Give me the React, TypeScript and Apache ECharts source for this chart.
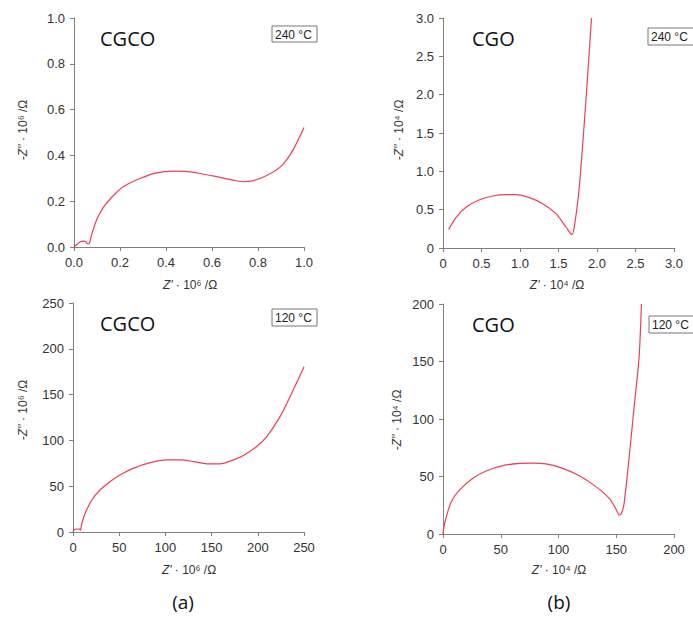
import React, { useEffect, useRef } from "react";
import * as echarts from "echarts";

// Panel (a) top: CGCO 240 °C  (Z' and -Z'' in 10^6 Ω)
const cgco240X = [0, 0.011, 0.026, 0.04, 0.052, 0.059, 0.067, 0.077, 0.098, 0.127, 0.163, 0.214, 0.287, 0.359, 0.432, 0.483, 0.548, 0.62, 0.693, 0.736, 0.78, 0.838, 0.9, 0.95, 1.0];
const cgco240Y = [0, 0.01, 0.022, 0.026, 0.023, 0.013, 0.016, 0.055, 0.118, 0.172, 0.216, 0.263, 0.299, 0.324, 0.331, 0.33, 0.321, 0.307, 0.292, 0.285, 0.29, 0.312, 0.352, 0.42, 0.522];

// Panel (b) top: CGO 240 °C  (10^4 Ω)
const cgo240X = [0.073, 0.173, 0.302, 0.475, 0.647, 0.82, 0.95, 1.122, 1.295, 1.467, 1.597, 1.675, 1.705, 1.77, 1.856, 1.929];
const cgo240Y = [0.243, 0.404, 0.535, 0.63, 0.678, 0.696, 0.696, 0.657, 0.578, 0.448, 0.274, 0.174, 0.274, 0.796, 1.926, 3.0];

// Panel (a) bottom: CGCO 120 °C  (10^6 Ω)
const cgco120X = [0, 1.4, 4.3, 7.2, 7.9, 9.7, 13.3, 20.5, 29.5, 40.3, 51.2, 65.6, 83.6, 101.6, 116, 130.4, 144.8, 159.1, 173.6, 184.4, 198.8, 209.7, 224.1, 234.9, 250];
const cgco120Y = [0, 2.5, 3.3, 3.3, 1.8, 9.8, 20.7, 35.2, 46.1, 55.2, 62.4, 69.7, 75.8, 78.7, 78.7, 76.9, 74.4, 74.4, 78.7, 83.5, 93.3, 104.1, 125.9, 147.7, 180.3];

// Panel (b) bottom: CGO 120 °C  (10^4 Ω)
const cgo120X = [0, 0.9, 2.9, 7.2, 14.4, 25.9, 37.4, 51.8, 66.2, 77.7, 89.2, 103.6, 118, 132.4, 143.9, 150.2, 152.5, 154.5, 156.8, 161.2, 165.5, 169.8, 171.8];
const cgo120Y = [0, 6.4, 15.1, 28.1, 38.3, 48.4, 54.8, 59.4, 61.4, 61.7, 60.9, 57.1, 50.7, 41.2, 31, 20.9, 16.5, 18, 26.7, 67.2, 110.7, 154.2, 200];

// Axis ranges and tick steps
const axisRanges = [
  { xMax: 1, xStep: 0.2, yMax: 1, yStep: 0.2, zeroLabel: "0.0" },
  { xMax: 3, xStep: 0.5, yMax: 3, yStep: 0.5, zeroLabel: "0" },
  { xMax: 250, xStep: 50, yMax: 250, yStep: 50, zeroLabel: "0" },
  { xMax: 200, xStep: 50, yMax: 200, yStep: 50, zeroLabel: "0" },
];
const sampleNames = ["CGCO", "CGO", "CGCO", "CGO"];
const temperatures = ["240 °C", "240 °C", "120 °C", "120 °C"];
const panelLetters = ["(a)", "(b)"];
const exponents = ["⁶", "⁴", "⁶", "⁴"];

const zip = (xs: number[], ys: number[]) => xs.map((x, i) => [x, ys[i]]);
const seriesData = [zip(cgco240X, cgco240Y), zip(cgo240X, cgo240Y), zip(cgco120X, cgco120Y), zip(cgo120X, cgo120Y)];

const grids = [
  { left: 74, top: 18, width: 230, height: 229 },
  { left: 443, top: 18, width: 231, height: 230 },
  { left: 73, top: 303, width: 231, height: 229 },
  { left: 443, top: 304, width: 231, height: 230 },
];

const LINE = "#ef3f52";
const AXIS = "#808080";
const LABEL = "#333333";
const FONT = "'Liberation Sans', Arial, sans-serif";

export default function App() {
  const ref = useRef<HTMLDivElement>(null);
  useEffect(() => {
    document.body.style.margin = "0";
    if (!ref.current) return;
    const chart = echarts.init(ref.current, undefined, { renderer: "svg" });

    const fmt = (i: number) => (v: number) => {
      const r = axisRanges[i];
      if (v === 0) return r.zeroLabel;
      return r.xStep < 1 ? v.toFixed(1) : String(v);
    };

    const xAxis = grids.map((_, i) => ({
      type: "value",
      gridIndex: i,
      min: 0,
      max: axisRanges[i].xMax,
      interval: axisRanges[i].xStep,
      offset: 3,
      axisLine: { show: true, lineStyle: { color: AXIS, width: 1 } },
      axisTick: { show: true, length: 4, lineStyle: { color: AXIS } },
      axisLabel: { color: LABEL, fontSize: 13, fontFamily: FONT, margin: 6, formatter: fmt(i) },
      splitLine: { show: false },
    }));
    const yAxis = grids.map((_, i) => ({
      type: "value",
      gridIndex: i,
      min: 0,
      max: axisRanges[i].yMax,
      interval: axisRanges[i].yStep,
      offset: 3,
      axisLine: { show: true, lineStyle: { color: AXIS, width: 1 } },
      axisTick: { show: true, length: 4, lineStyle: { color: AXIS } },
      axisLabel: { color: LABEL, fontSize: 13, fontFamily: FONT, margin: 6, formatter: fmt(i) },
      splitLine: { show: false },
    }));
    const series = seriesData.map((d, i) => ({
      type: "line",
      xAxisIndex: i,
      yAxisIndex: i,
      data: d,
      showSymbol: false,
      smooth: 0.25,
      clip: true,
      lineStyle: { color: LINE, width: 1.2 },
    }));

    const rich = {
      n: { fontSize: 12, fontFamily: FONT, fill: LABEL, color: LABEL },
      i: { fontSize: 12, fontFamily: FONT, fontStyle: "italic", fill: LABEL, color: LABEL },
    };

    const yNamePos = [
      [23, 130],
      [399, 130],
      [23, 410],
      [397, 420],
    ];
    const xNamePos = [
      [190, 285],
      [557, 285],
      [189, 570],
      [559, 570],
    ];
    const titlePos = [
      [100, 38],
      [472, 38],
      [100, 323],
      [472, 324],
    ];
    const boxPos = [
      [272, 26, 45, 16],
      [648, 28, 60, 17],
      [272, 309, 45, 17],
      [649, 316, 60, 17],
    ];

    const graphic: any[] = [];
    grids.forEach((_, i) => {
      graphic.push({
        type: "text",
        x: yNamePos[i][0],
        y: yNamePos[i][1],
        rotation: Math.PI / 2,
        style: {
          text: `{i|-Z''}{n| · 10${exponents[i]} /Ω}`,
          rich,
          align: "center",
          verticalAlign: "middle",
        },
      });
      graphic.push({
        type: "text",
        x: xNamePos[i][0],
        y: xNamePos[i][1],
        style: {
          text: `{i|Z'}{n| · 10${exponents[i]} /Ω}`,
          rich,
          align: "center",
          verticalAlign: "middle",
        },
      });
      graphic.push({
        type: "text",
        x: titlePos[i][0],
        y: titlePos[i][1],
        style: {
          text: sampleNames[i],
          fontSize: 20,
          fontFamily: "'Open Sans', sans-serif",
          fill: "#111",
          align: "left",
          verticalAlign: "middle",
        },
      });
      const [bx, by, bw, bh] = boxPos[i];
      graphic.push({
        type: "rect",
        shape: { x: bx, y: by, width: bw, height: bh },
        style: { fill: "#fff", stroke: "#777", lineWidth: 1 },
      });
      graphic.push({
        type: "text",
        x: bx + 3,
        y: by + bh / 2 + 0.5,
        style: {
          text: temperatures[i],
          fontSize: 12,
          fontFamily: FONT,
          fill: "#222",
          align: "left",
          verticalAlign: "middle",
        },
      });
    });
    const letterPos = [
      [183, 602],
      [559, 602],
    ];
    panelLetters.forEach((t, i) => {
      graphic.push({
        type: "text",
        x: letterPos[i][0],
        y: letterPos[i][1],
        style: {
          text: t,
          fontSize: 19,
          fontFamily: "'Open Sans', sans-serif",
          fill: "#111",
          align: "center",
          verticalAlign: "middle",
        },
      });
    });

    chart.setOption({
      animation: false,
      backgroundColor: "#ffffff",
      grid: grids.map((g) => ({ ...g, containLabel: false })),
      xAxis,
      yAxis,
      series,
      graphic,
    } as any);
    return () => chart.dispose();
  }, []);
  return <div ref={ref} style={{ width: 693, height: 617 }} />;
}
